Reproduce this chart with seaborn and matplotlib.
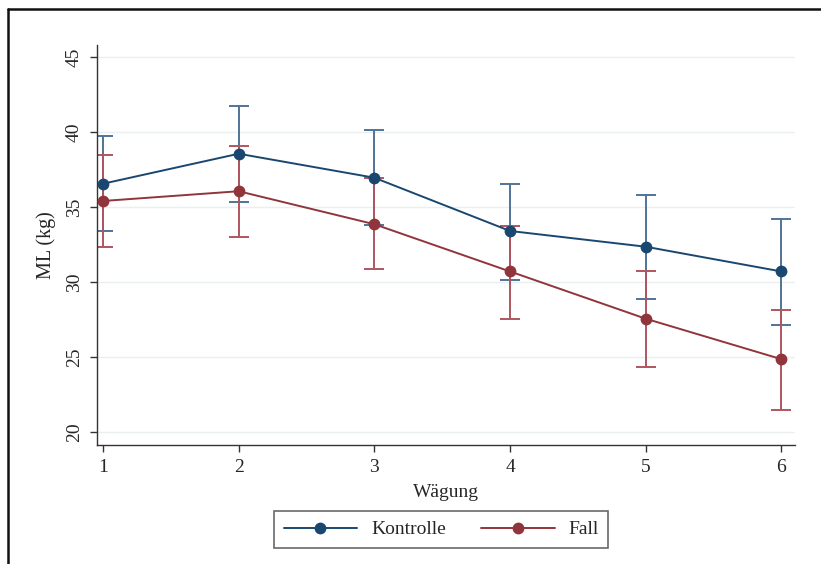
import numpy as np
import pandas as pd
import matplotlib
matplotlib.use("Agg")
import matplotlib.pyplot as plt
from matplotlib.lines import Line2D
import seaborn as sns

# Data
wagung = [1, 2, 3, 4, 5, 6]
kontrolle_mean = [36.55, 38.55, 36.95, 33.40, 32.35, 30.70]
kontrolle_low = [33.40, 35.35, 33.80, 30.15, 28.85, 27.10]
kontrolle_high = [39.70, 41.70, 40.10, 36.55, 35.80, 34.20]
fall_mean = [35.40, 36.05, 33.85, 30.70, 27.55, 24.85]
fall_low = [32.35, 33.00, 30.85, 27.50, 24.30, 21.45]
fall_high = [38.45, 39.05, 36.90, 33.75, 30.70, 28.15]
groups = ["Kontrolle", "Fall"]
y_ticks = [20, 25, 30, 35, 40, 45]

colors = {"Kontrolle": "#1a476f", "Fall": "#90353b"}
bar_colors = {"Kontrolle": "#4f7397", "Fall": "#b0565f"}

df = pd.DataFrame({
    "Wägung": wagung * 2,
    "ML": kontrolle_mean + fall_mean,
    "low": kontrolle_low + fall_low,
    "high": kontrolle_high + fall_high,
    "Gruppe": ["Kontrolle"] * 6 + ["Fall"] * 6,
})

sns.set_theme(style="white")
plt.rcParams["font.family"] = ["Liberation Serif", "DejaVu Serif"]

fig = plt.figure(figsize=(8.21, 5.64), dpi=100)
ax = fig.add_axes([97 / 821, 1 - 445 / 564, 698 / 821, 400 / 564])

for y in y_ticks:
    ax.axhline(y, color="#eaf0f2", lw=1.0, zorder=0)

for g in groups:
    sub = df[df["Gruppe"] == g]
    ax.errorbar(sub["Wägung"], sub["ML"],
                yerr=[sub["ML"] - sub["low"], sub["high"] - sub["ML"]],
                fmt="none", ecolor=bar_colors[g], elinewidth=1.4,
                capsize=7.5, capthick=1.4, zorder=2)

sns.lineplot(data=df, x="Wägung", y="ML", hue="Gruppe", hue_order=groups,
             palette=colors, marker="o", markersize=8.5, markeredgewidth=0,
             linewidth=1.4, legend=False, ax=ax, zorder=3)

ax.set_xlim(0.956, 6.10)
ax.set_ylim(19.13, 45.8)
ax.set_xticks(wagung)
ax.set_yticks(y_ticks)
ax.set_yticklabels([str(v) for v in y_ticks], rotation=90, va="center")
ax.set_xlabel("Wägung", fontsize=14, labelpad=6)
ax.set_ylabel("ML (kg)", fontsize=14.5, labelpad=7)
ax.tick_params(axis="both", labelsize=14, length=5, width=1,
               color="#333333", direction="out", bottom=True, left=True, pad=5)

for side in ["top", "right"]:
    ax.spines[side].set_visible(False)
for side in ["left", "bottom"]:
    ax.spines[side].set_color("#333333")
    ax.spines[side].set_linewidth(1.0)

handles = [Line2D([], [], color=colors[g], marker="o", markersize=8.5,
                  markeredgewidth=0, lw=1.4) for g in groups]
leg = fig.legend(handles, groups, loc="center", ncol=2,
                 bbox_to_anchor=(441 / 821, 1 - 529.5 / 564),
                 fontsize=14, handlelength=3.8, handletextpad=0.7,
                 columnspacing=1.8, frameon=True, fancybox=False,
                 borderpad=0.5)
leg.get_frame().set_edgecolor("#444444")
leg.get_frame().set_linewidth(1.2)

# outer frame of the graph region
fig.add_artist(Line2D([8 / 821, 1.0], [1 - 9 / 564, 1 - 9 / 564],
                      transform=fig.transFigure, color="#111111", lw=1.8))
fig.add_artist(Line2D([8 / 821, 8 / 821], [0.0, 1 - 9 / 564],
                      transform=fig.transFigure, color="#111111", lw=1.8))

fig.savefig("out.png", dpi=100)
